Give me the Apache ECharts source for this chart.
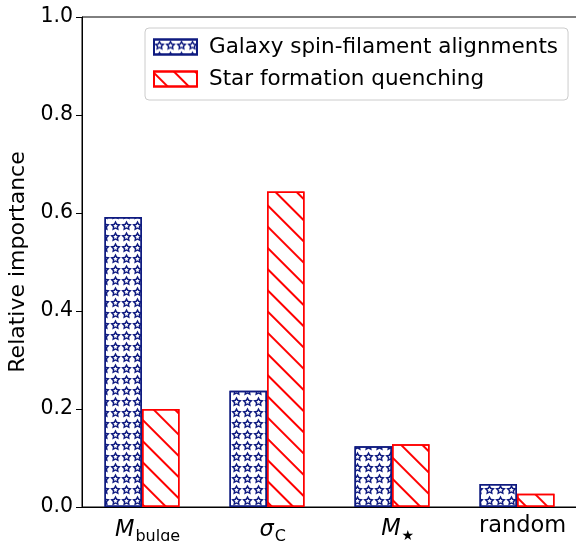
<!DOCTYPE html>
<html><head><meta charset="utf-8">
<script src="https://cdn.jsdelivr.net/npm/echarts@6/dist/echarts.min.js"></script>
<style>html,body{margin:0;padding:0;background:#fff}#c{width:576px;height:541px}</style>
</head><body><div id="c"></div>
<script>
// ---- data ----
const categories = ['M_bulge', 'sigma_C', 'M_star', 'random'];
const categoryLabels = ['{it|M}{sub|bulge}', '{it|σ}{sub|C}', '{it|M}{subs|★}', '{rm|random}'];
const seriesNames = ['Galaxy spin-filament alignments', 'Star formation quenching'];
const spinValues = [0.592, 0.237, 0.124, 0.047];
const quenchValues = [0.200, 0.644, 0.128, 0.027];
const yTicks = [0.0, 0.2, 0.4, 0.6, 0.8, 1.0];

// ---- styles ----
const FONT = 'DejaVu Sans';
const NAVY = '#0f1b80';
const RED = '#ff0000';
const LABEL_SHIFT = 0.045; // labels sit slightly right of bar-group centres in the reference

function starRing(R, r, rev) {
  const pts = [];
  for (let k = 0; k < 10; k++) {
    const a = -Math.PI / 2 + k * Math.PI / 5;
    const rad = (k % 2 === 0) ? R : r;
    pts.push([(rad * Math.cos(a)).toFixed(3), (rad * Math.sin(a)).toFixed(3)]);
  }
  if (rev) pts.reverse();
  return 'M' + pts.map(p => p[0] + ' ' + p[1]).join(' L') + ' Z';
}
const hollowStar = 'path://' + starRing(10, 5, false) + ' ' + starRing(4.2, 2.1, true);

const starDecal = {
  symbol: hollowStar,
  symbolSize: 0.97,
  symbolKeepAspect: true,
  color: NAVY,
  backgroundColor: null,
  dashArrayX: [10.5, 0],
  dashArrayY: [10.5, 0, 10.5, 0],
  rotation: 0
};
const hatchDecal = {
  symbol: 'rect',
  symbolSize: 1,
  color: RED,
  dashArrayX: [1, 0],
  dashArrayY: [2, 13],
  rotation: Math.PI / 4
};

const chart = echarts.init(document.getElementById('c'), null, {renderer: 'canvas'});
chart.setOption({
  animation: false,
  backgroundColor: '#fff',
  textStyle: {fontFamily: FONT},
  grid: {left: 82, top: 17, width: 495, height: 490, outerBoundsMode: 'none', containLabel: false,
         show: true, borderColor: '#000', borderWidth: 1, backgroundColor: 'transparent'},
  legend: {
    orient: 'vertical',
    left: 145, top: 28,
    padding: [8, 10, 10, 8],
    itemWidth: 43, itemHeight: 15, itemGap: 10,
    icon: 'rect',
    borderColor: '#cccccc', borderWidth: 1, borderRadius: 4,
    backgroundColor: 'rgba(255,255,255,0.8)',
    textStyle: {fontFamily: FONT, fontSize: 21.5, color: '#000', padding: [0, 0, 0, 7]},
    data: seriesNames
  },
  xAxis: {
    type: 'value', min: -0.48, max: 3.48,
    axisLine: {show: true, onZero: false, lineStyle: {color: '#000', width: 1}},
    axisTick: {show: false},
    splitLine: {show: false},
    axisLabel: {
      customValues: categories.map((c, i) => i + LABEL_SHIFT),
      margin: 8,
      formatter: v => categoryLabels[Math.round(v)],
      rich: {
        it: {fontFamily: FONT, fontStyle: 'italic', fontSize: 22.5, color: '#000'},
        sub: {fontFamily: FONT, fontSize: 16, color: '#000', padding: [14, 0, 0, 1]},
        subs: {fontFamily: FONT, fontSize: 14, color: '#000', padding: [14, 0, 0, 1]},
        rm: {fontFamily: FONT, fontSize: 22.5, color: '#000'}
      }
    }
  },
  yAxis: {
    type: 'value', min: 0, max: 1, interval: 0.2,
    name: 'Relative importance', nameLocation: 'middle', nameRotate: 90, nameGap: 50,
    nameTextStyle: {fontFamily: FONT, fontSize: 22, color: '#000'},
    axisLine: {show: true, onZero: false, lineStyle: {color: '#000', width: 1}},
    axisTick: {show: true, length: 6, lineStyle: {color: '#000'}},
    splitLine: {show: false},
    axisLabel: {
      customValues: yTicks,
      margin: 9, fontFamily: FONT, fontSize: 20.5, color: '#000',
      formatter: v => v.toFixed(1)
    }
  },
  series: [
    {
      name: seriesNames[0], type: 'bar', barWidth: 37.5, barGap: '0%',
      data: spinValues.map((v, i) => [i, v]),
      itemStyle: {color: '#fff', borderColor: NAVY, borderWidth: 1.5, decal: starDecal}
    },
    {
      name: seriesNames[1], type: 'bar', barWidth: 37.5, barGap: '0%',
      data: quenchValues.map((v, i) => [i, v]),
      itemStyle: {color: '#fff', borderColor: RED, borderWidth: 1.5, decal: hatchDecal}
    }
  ]
});
</script>
</body></html>
